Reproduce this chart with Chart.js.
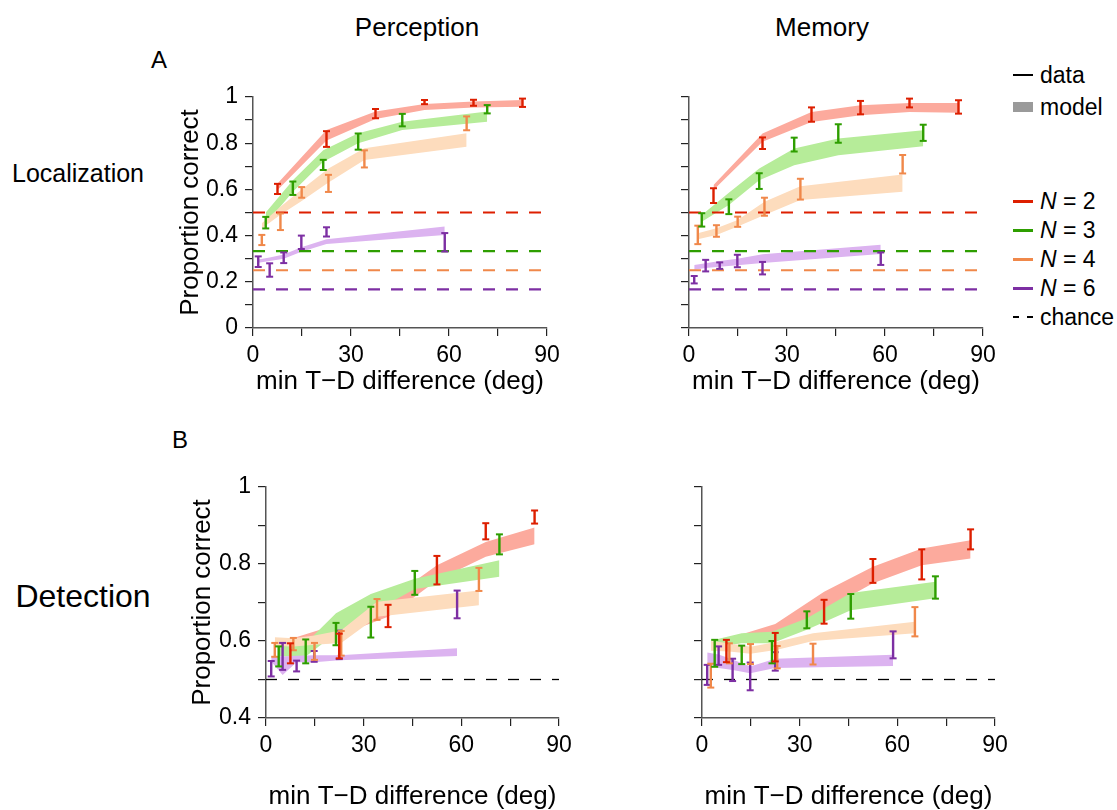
<!DOCTYPE html>
<html>
<head>
<meta charset="utf-8">
<script src="https://cdn.jsdelivr.net/npm/chart.js@4.4.1/dist/chart.umd.min.js"></script>
<style>
body { margin: 0; background: #fff; font-family: "Liberation Sans", Arial, sans-serif; }
#fig { position: relative; width: 1117px; height: 810px; overflow: hidden; }
canvas { position: absolute; }
.lbl { position: absolute; white-space: nowrap; line-height: 1; color: #000; transform: translate(-50%, -50%); }
.leg { position: absolute; left: 1040px; font-size: 23px; line-height: 1; transform: translateY(-50%); white-space: nowrap; }
.sym { position: absolute; left: 1013px; width: 20px; }
</style>
</head>
<body>
<div id="fig">
  <div class="lbl" style="left:417px;top:27px;font-size:26px">Perception</div>
  <div class="lbl" style="left:822px;top:27px;font-size:26px">Memory</div>
  <div class="lbl" style="left:159px;top:60px;font-size:24px">A</div>
  <div class="lbl" style="left:180px;top:440px;font-size:24px">B</div>
  <div class="lbl" style="left:78px;top:173px;font-size:25px">Localization</div>
  <div class="lbl" style="left:83px;top:596px;font-size:32px">Detection</div>

  <canvas id="locPer" width="396" height="319" style="left:176px;top:76px"></canvas>
  <canvas id="locMem" width="368" height="319" style="left:640px;top:76px"></canvas>
  <canvas id="detPer" width="396" height="344" style="left:188px;top:466px"></canvas>
  <canvas id="detMem" width="370" height="344" style="left:650px;top:466px"></canvas>

  <div class="sym" style="top:74px;height:2px;background:#000"></div>
  <div class="leg" style="top:75px">data</div>
  <div class="sym" style="top:102px;height:10px;background:#9a9a9a"></div>
  <div class="leg" style="top:107px">model</div>
  <div class="sym" style="top:200px;height:3px;background:#dd1f00"></div>
  <div class="leg" style="top:201px"><i>N</i> = 2</div>
  <div class="sym" style="top:229px;height:3px;background:#2e9e00"></div>
  <div class="leg" style="top:230px"><i>N</i> = 3</div>
  <div class="sym" style="top:258px;height:3px;background:#f0884a"></div>
  <div class="leg" style="top:259px"><i>N</i> = 4</div>
  <div class="sym" style="top:287px;height:3px;background:#7d2fa3"></div>
  <div class="leg" style="top:288px"><i>N</i> = 6</div>
  <div class="sym" style="top:316px;height:2px;width:6px;background:#000"></div>
  <div class="sym" style="top:316px;left:1027px;height:2px;width:6px;background:#000"></div>
  <div class="leg" style="top:317px">chance</div>
</div>

<script>
// bin centres (min T-D difference, deg) for N = 2, 3, 4, 6
const binsN2 = [7.5, 22.5, 37.5, 52.5, 67.5, 82.5];
const binsN3 = [3.9, 12.2, 21.5, 32.2, 45.7, 71.7];
const binsN4 = [2.7, 8.4, 14.9, 23.1, 34.1, 65.4];
const binsN6 = [1.6, 5.1, 9.4, 14.8, 22.5, 58.7];

const setSizes = ['2', '3', '4', '6'];
const xTickLabels = [0, 30, 60, 90];
const yTickLabelsLoc = [0, 0.2, 0.4, 0.6, 0.8, 1];
const yTickLabelsDet = [0.4, 0.6, 0.8, 1];

const chanceLoc = [0.5, 0.333, 0.25, 0.167];
const chanceDet = [0.5];

// Localization - Perception
const locPerMean = [
  [0.602, 0.818, 0.928, 0.978, 0.975, 0.975],
  [0.456, 0.605, 0.706, 0.807, 0.900, 0.947],
  [0.381, 0.460, 0.587, 0.626, 0.732, 0.886],
  [0.287, 0.251, 0.304, 0.371, 0.416, 0.371]];
const locPerErr = [
  [0.022, 0.034, 0.020, 0.009, 0.013, 0.018],
  [0.025, 0.029, 0.022, 0.035, 0.027, 0.018],
  [0.022, 0.036, 0.023, 0.037, 0.037, 0.030],
  [0.023, 0.029, 0.023, 0.029, 0.020, 0.040]];
const locPerLo = [
  [0.597, 0.812, 0.905, 0.944, 0.955, 0.958],
  [0.450, 0.590, 0.720, 0.800, 0.857, 0.893],
  [0.431, 0.490, 0.550, 0.630, 0.727, 0.785],
  [0.283, 0.290, 0.300, 0.330, 0.364, 0.403]];
const locPerHi = [
  [0.626, 0.857, 0.937, 0.970, 0.980, 0.987],
  [0.500, 0.640, 0.770, 0.843, 0.893, 0.937],
  [0.453, 0.525, 0.600, 0.690, 0.778, 0.843],
  [0.297, 0.305, 0.318, 0.350, 0.384, 0.439]];

// Localization - Memory
const locMemMean = [
  [0.573, 0.800, 0.924, 0.954, 0.974, 0.957],
  [0.468, 0.525, 0.636, 0.794, 0.842, 0.845],
  [0.403, 0.420, 0.460, 0.525, 0.601, 0.709],
  [0.209, 0.270, 0.270, 0.290, 0.259, 0.300]];
const locMemErr = [
  [0.032, 0.025, 0.031, 0.029, 0.019, 0.029],
  [0.029, 0.032, 0.034, 0.030, 0.040, 0.035],
  [0.040, 0.025, 0.022, 0.039, 0.045, 0.040],
  [0.016, 0.025, 0.014, 0.027, 0.027, 0.027]];
const locMemLo = [
  [0.597, 0.806, 0.892, 0.921, 0.935, 0.932],
  [0.460, 0.532, 0.640, 0.705, 0.748, 0.787],
  [0.384, 0.403, 0.439, 0.489, 0.554, 0.590],
  [0.252, 0.260, 0.265, 0.272, 0.281, 0.320]];
const locMemHi = [
  [0.619, 0.842, 0.935, 0.964, 0.974, 0.974],
  [0.489, 0.585, 0.690, 0.777, 0.820, 0.856],
  [0.410, 0.432, 0.468, 0.547, 0.614, 0.665],
  [0.273, 0.280, 0.290, 0.300, 0.319, 0.360]];

// Detection - Perception
const detPerMean = [
  [0.568, 0.587, 0.665, 0.784, 0.885, 0.922],
  [0.560, 0.573, 0.618, 0.649, 0.751, 0.851],
  [0.577, 0.592, 0.573, 0.594, 0.682, 0.760],
  [0.528, 0.560, 0.535, 0.560, 0.590, 0.695]];
const detPerErr = [
  [0.026, 0.032, 0.029, 0.037, 0.021, 0.017],
  [0.026, 0.031, 0.029, 0.040, 0.031, 0.026],
  [0.018, 0.016, 0.022, 0.032, 0.027, 0.030],
  [0.020, 0.035, 0.014, 0.014, 0.037, 0.036]];
const detPerLo = [
  [0.587, 0.615, 0.663, 0.758, 0.819, 0.851],
  [0.560, 0.560, 0.620, 0.672, 0.735, 0.767],
  [0.587, 0.586, 0.590, 0.595, 0.663, 0.693],
  [0.547, 0.512, 0.545, 0.545, 0.550, 0.561]];
const detPerHi = [
  [0.605, 0.645, 0.706, 0.797, 0.857, 0.895],
  [0.586, 0.594, 0.672, 0.722, 0.762, 0.810],
  [0.610, 0.607, 0.614, 0.628, 0.702, 0.731],
  [0.561, 0.560, 0.562, 0.563, 0.563, 0.581]];

// Detection - Memory
const detMemMean = [
  [0.574, 0.584, 0.676, 0.782, 0.799, 0.864],
  [0.568, 0.564, 0.571, 0.655, 0.690, 0.739],
  [0.510, 0.568, 0.566, 0.558, 0.566, 0.650],
  [0.512, 0.562, 0.525, 0.508, 0.547, 0.590]];
const detMemErr = [
  [0.029, 0.037, 0.031, 0.031, 0.039, 0.026],
  [0.035, 0.024, 0.029, 0.022, 0.032, 0.029],
  [0.031, 0.026, 0.026, 0.029, 0.027, 0.038],
  [0.026, 0.024, 0.029, 0.036, 0.024, 0.035]];
const detMemLo = [
  [0.588, 0.611, 0.680, 0.750, 0.797, 0.814],
  [0.586, 0.594, 0.594, 0.629, 0.680, 0.711],
  [0.575, 0.573, 0.567, 0.577, 0.600, 0.620],
  [0.542, 0.530, 0.525, 0.516, 0.530, 0.535]];
const detMemHi = [
  [0.605, 0.644, 0.728, 0.793, 0.840, 0.862],
  [0.603, 0.620, 0.624, 0.659, 0.725, 0.754],
  [0.600, 0.594, 0.585, 0.598, 0.620, 0.650],
  [0.570, 0.565, 0.552, 0.534, 0.554, 0.564]];

const binX = [binsN2, binsN3, binsN4, binsN6];
const dataColors = ['#dd1f00', '#2e9e00', '#f0884a', '#7d2fa3'];
const bandColors = ['#fcaa9d', '#b6ec99', '#fddcbd', '#dcb3f0'];

Chart.defaults.font.family = '"Liberation Sans", Arial, sans-serif';
Chart.defaults.color = '#000';

function hasLabel(list, v) {
  return list.find(t => Math.abs(t - v) < 1e-6);
}

function makePanel(id, p) {
  const datasets = [];

  // error bars (top)
  for (let k = 0; k < 4; k++) {
    const pts = [];
    binX[k].forEach((x, i) => {
      pts.push({ x: x, y: p.mean[k][i] - p.err[k][i] });
      pts.push({ x: x, y: p.mean[k][i] + p.err[k][i] });
      pts.push({ x: x, y: null });
    });
    datasets.push({
      data: pts, borderColor: dataColors[k], borderWidth: 2.4,
      pointStyle: 'line', pointRadius: 3.5, pointBorderWidth: 2,
      pointBorderColor: dataColors[k], spanGaps: false, fill: false, order: 0
    });
  }

  // chance level
  p.chance.forEach((c, k) => {
    datasets.push({
      data: [{ x: 0, y: c }, { x: 90, y: c }],
      borderColor: p.chance.length > 1 ? dataColors[k] : '#000',
      borderWidth: p.chance.length > 1 ? 2.2 : 1.3,
      borderDash: p.chance.length > 1 ? [12, 11] : [11, 11],
      pointRadius: 0, fill: false, order: 1
    });
  });

  // model bands, red lowest, purple on top
  for (let k = 0; k < 4; k++) {
    datasets.push({
      data: binX[k].map((x, i) => ({ x: x, y: p.lo[k][i] })),
      borderWidth: 0, pointRadius: 0, fill: false, order: 9 - k
    });
    datasets.push({
      data: binX[k].map((x, i) => ({ x: x, y: p.hi[k][i] })),
      borderWidth: 0, pointRadius: 0, fill: '-1',
      backgroundColor: bandColors[k], order: 9 - k
    });
  }

  const axisGrid = { display: true, drawOnChartArea: false, drawTicks: true, tickLength: 8, color: '#222', lineWidth: 1.2 };
  const axisBorder = { display: true, color: '#555', width: 1.5 };

  new Chart(document.getElementById(id), {
    type: 'line',
    data: { datasets: datasets },
    options: {
      responsive: false,
      animation: false,
      events: [],
      layout: { padding: { left: 0, top: 21, right: 25, bottom: 0 } },
      plugins: { legend: { display: false }, tooltip: { enabled: false } },
      scales: {
        x: {
          type: 'linear', min: 0, max: 90,
          afterFit: s => { s.height = p.xHeight; },
          grid: axisGrid, border: axisBorder,
          ticks: {
            stepSize: 15, autoSkip: false, maxRotation: 0, padding: 6,
            font: { size: 23 },
            callback: v => hasLabel(xTickLabels, v) !== undefined ? String(v) : ''
          },
          title: {
            display: true, text: 'min T\u2212D difference (deg)',
            font: { size: 26, lineHeight: 1 }, padding: { top: 0, bottom: 0 }
          }
        },
        y: {
          type: 'linear', min: p.yMin, max: 1,
          afterFit: s => { s.width = p.yWidth; },
          grid: axisGrid, border: axisBorder,
          ticks: {
            stepSize: 0.1, autoSkip: false, padding: 7,
            font: { size: 23 },
            callback: v => {
              if (!p.yLabels) return '';
              const t = hasLabel(p.yLabels, v);
              return t !== undefined ? String(t) : '';
            }
          },
          title: {
            display: !!p.yLabels, text: 'Proportion correct',
            font: { size: 26, lineHeight: 1 }, padding: { top: 2, bottom: 0 }
          }
        }
      }
    }
  });
}

makePanel('locPer', { mean: locPerMean, err: locPerErr, lo: locPerLo, hi: locPerHi,
  chance: chanceLoc, yMin: 0, yLabels: yTickLabelsLoc, yWidth: 77, xHeight: 67 });
makePanel('locMem', { mean: locMemMean, err: locMemErr, lo: locMemLo, hi: locMemHi,
  chance: chanceLoc, yMin: 0, yLabels: null, yWidth: 49, xHeight: 67 });
makePanel('detPer', { mean: detPerMean, err: detPerErr, lo: detPerLo, hi: detPerHi,
  chance: chanceDet, yMin: 0.4, yLabels: yTickLabelsDet, yWidth: 78, xHeight: 92 });
makePanel('detMem', { mean: detMemMean, err: detMemErr, lo: detMemLo, hi: detMemHi,
  chance: chanceDet, yMin: 0.4, yLabels: null, yWidth: 52, xHeight: 92 });
</script>
</body>
</html>
